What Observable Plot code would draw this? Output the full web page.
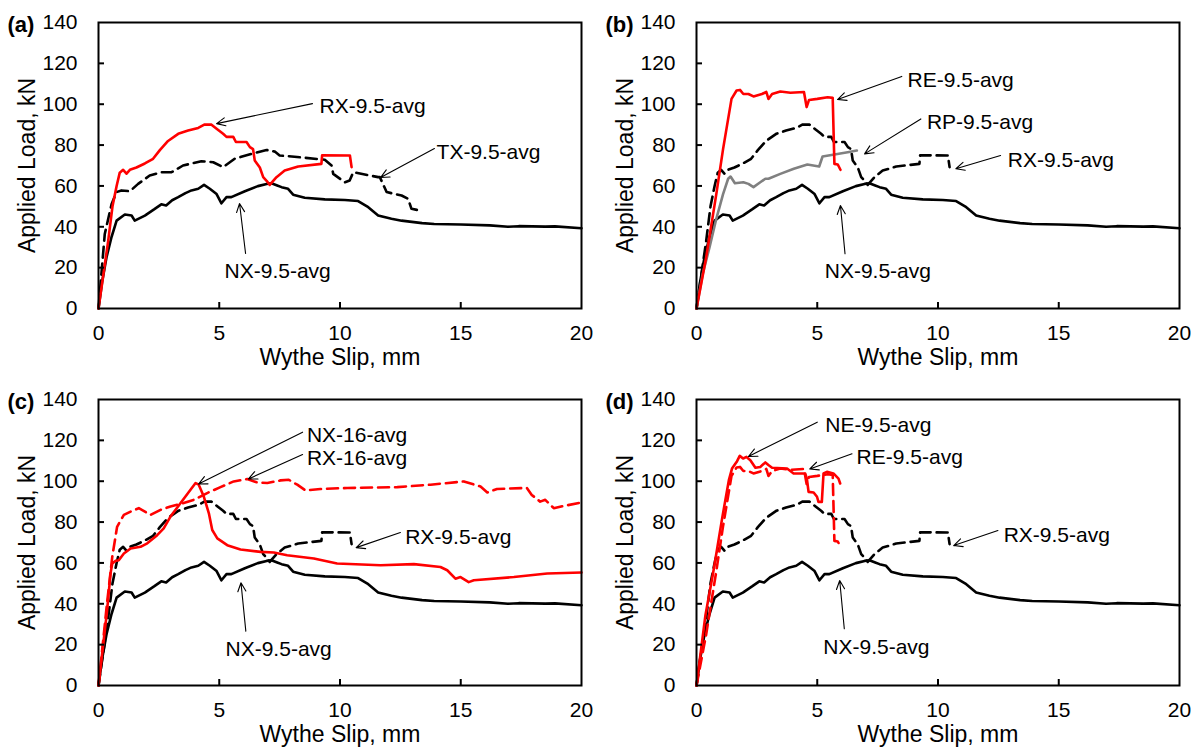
<!DOCTYPE html>
<html><head><meta charset="utf-8">
<script src="https://cdn.jsdelivr.net/npm/d3@7"></script>
<script src="https://cdn.jsdelivr.net/npm/@observablehq/plot@0.6"></script>
<style>
body{margin:0;background:#fff;}
#grid{display:grid;grid-template-columns:598px 598px;grid-template-rows:377px 377px;width:1196px;height:754px;}
#grid svg{display:block;}
</style></head><body><div id="grid"></div><script>
// ---- axis ticks / titles ----
const xTicks = [0, 5, 10, 15, 20];
const yTicks = [0, 20, 40, 60, 80, 100, 120, 140];
const xTitle = "Wythe Slip, mm";
const yTitle = "Applied Load, kN";
const panelLetters = ["(a)", "(b)", "(c)", "(d)"];

// ---- series: [slip mm, load kN] ----
const NX95 = [[0,0],[0.15,13],[0.33,25],[0.54,35],[0.75,43],[1.09,46],[1.37,45.5],[1.5,43],[1.92,45.5],[2.3,48.5],[2.6,51],[2.8,50.4],[3.05,53],[3.3,54.5],[3.6,56.5],[3.85,57.8],[4.13,58.6],[4.37,60.5],[4.61,58.6],[4.89,56],[5.09,51.5],[5.3,54.5],[5.5,54.5],[6.06,57.4],[6.6,59.9],[6.96,61],[7.16,61.3],[7.4,60.2],[7.58,59.4],[7.85,58.6],[8.06,55.7],[8.54,54.2],[9.37,53.4],[10.2,53.1],[10.75,52.6],[11.17,49.6],[11.58,45.5],[12.13,43.9],[12.55,43],[13.4,41.8],[13.9,41.4],[15,41.1],[16.2,40.7],[16.96,40],[17.4,40.3],[18.5,40.1],[18.9,40.2],[20,39.3]];
const RX95 = [[0,0],[0.4,33],[0.58,50],[0.75,60],[0.88,66.5],[1.02,67.9],[1.16,66],[1.3,67.9],[1.57,69],[1.92,71],[2.26,73.3],[2.54,77.5],[2.88,82],[3.3,85.5],[3.71,87.1],[4.13,88.4],[4.4,90.1],[4.68,90],[4.89,88],[5.16,85.5],[5.3,84],[5.58,84],[5.69,81.5],[6.13,81.5],[6.27,79],[6.4,78],[6.47,72.4],[6.68,69],[6.82,64.3],[6.96,62.5],[7.09,60.5],[7.37,64.3],[7.71,67.5],[8.27,69.5],[9.23,70.8],[9.26,75],[10.41,74.9],[10.48,69.2]];
const TX95 = [[0,0],[0.26,36.5],[0.54,51],[0.75,57],[0.95,57.8],[1.3,57.4],[1.64,61],[2.12,65.1],[2.6,66.7],[3.02,66.7],[3.5,70],[4.26,72.1],[4.75,71.6],[5.16,69.2],[5.64,73.3],[6.34,75.7],[6.96,77.6],[7.3,76.8],[7.5,74.9],[8,74.4],[9.37,72.8],[9.65,70],[9.72,65.9],[10.2,61.8],[10.4,62.7],[10.55,66.7],[11.58,64.3],[11.65,64.3],[11.93,57],[12.55,55.3],[12.82,53.7],[12.96,48.8],[13.3,48]];
const RE95 = [[0,0],[0.4,25],[0.82,56],[1.1,78],[1.45,102.6],[1.66,106.7],[1.8,107],[1.94,105],[2.15,105],[2.36,103.8],[2.71,105],[2.89,106],[2.98,102.6],[3.13,105],[3.47,106.2],[3.89,105.6],[4.45,106],[4.56,98.6],[4.66,102.1],[5.0,102.6],[5.43,103.4],[5.64,103.1],[5.71,70.8],[5.85,70.5],[5.96,67.9]];
const RP95 = [[0,0],[0.26,17],[0.54,30],[0.82,43.9],[1.1,56],[1.31,63.5],[1.41,64.6],[1.59,61.3],[1.94,61.8],[2.15,61],[2.36,59.4],[2.64,61.8],[2.85,63.5],[2.98,63.5],[3.47,65.9],[4.03,68.4],[4.59,70.5],[5.08,69.5],[5.22,74.4],[5.71,75.4],[6.26,76.5],[6.64,77.3]];
const NX16 = [[0,0],[0.35,36],[0.5,55],[0.57,59.7],[0.7,61],[0.84,61.3],[1.05,64.6],[1.33,67.1],[1.74,67.9],[2.02,69.6],[2.43,73.6],[2.7,76.9],[2.98,82.7],[3.4,89.3],[3.81,95.8],[4.02,99.1],[4.15,98.3],[4.36,92.5],[4.57,84.3],[4.71,76.1],[4.92,72],[5.33,68.7],[5.88,66.6],[6.71,65.4],[7.26,65.1],[7.81,63.8],[8.92,62.2],[9.88,59.7],[11.68,58.9],[13.06,59.4],[14.16,58],[14.44,56.4],[14.78,52.3],[14.99,53.1],[15.33,50.6],[15.54,51.5],[17.2,53.1],[18.58,54.8],[20,55.3]];
const RX16 = [[0,0],[0.35,40],[0.57,63],[0.77,77.7],[1.05,83.5],[1.33,85.1],[1.67,86.8],[2.15,83.5],[2.57,86],[2.98,87.6],[3.4,88.9],[3.95,90.9],[4.5,94.2],[5.05,97.1],[5.6,99.9],[6.16,101.1],[6.57,99.4],[6.99,99.1],[7.54,100.4],[7.88,100.7],[8.23,98.3],[8.57,95.5],[9.19,96.2],[10.3,96.7],[12.37,97.1],[13.75,98.3],[15.13,99.9],[15.82,97.4],[16.1,94.5],[16.5,96.2],[17.74,96.7],[17.94,93.3],[18.29,90],[18.5,90.9],[18.85,86.8],[19.27,87.9],[20,89.6]];
const NE95 = [[0,0],[0.37,34.4],[0.72,57.3],[1.06,81.7],[1.34,100.5],[1.47,106.2],[1.68,109.8],[1.79,112.4],[1.93,111.1],[2.07,111.9],[2.23,110.3],[2.44,106.6],[2.64,107],[2.85,109.2],[2.99,107.8],[3.13,106.6],[3.75,106.2],[4.02,103.8],[4.5,103.8],[4.57,101.3],[4.64,94.8],[4.85,94.5],[4.99,92.4],[5.05,89.9],[5.19,89.9],[5.26,103.8],[5.4,104.6],[5.67,103.8],[5.88,101.3],[5.95,98.9]];

// ---- annotations: label, text anchor (tx,ty), arrow tail (x1,y1) -> head (x2,y2) ----
const notesA = [
  {label: "RX-9.5-avg", tx: 9.15, ty: 98.9, x1: 8.86, y1: 100.3, x2: 4.89, y2: 90.5},
  {label: "TX-9.5-avg", tx: 14.0, ty: 76.4, x1: 13.91, y1: 78.3, x2: 11.68, y2: 64.1},
  {label: "NX-9.5-avg", tx: 5.22, ty: 18.1, x1: 6.09, y1: 26.9, x2: 5.84, y2: 51.4}
];
const notesB = [
  {label: "RE-9.5-avg", tx: 8.74, ty: 111.6, x1: 8.5, y1: 113.6, x2: 5.84, y2: 102.3},
  {label: "RP-9.5-avg", tx: 9.54, ty: 91.2, x1: 9.29, y1: 92.8, x2: 6.96, y2: 75.7},
  {label: "RX-9.5-avg", tx: 12.89, ty: 72.8, x1: 12.59, y1: 74.9, x2: 10.74, y2: 68.4},
  {label: "NX-9.5-avg", tx: 5.31, ty: 18.3, x1: 6.15, y1: 26.8, x2: 5.96, y2: 50.4}
];
const notesC = [
  {label: "NX-16-avg", tx: 8.63, ty: 122.4, x1: 8.45, y1: 124, x2: 4.14, y2: 98.6},
  {label: "RX-16-avg", tx: 8.63, ty: 111.2, x1: 8.45, y1: 113.1, x2: 6.21, y2: 101.1},
  {label: "RX-9.5-avg", tx: 12.7, ty: 72.4, x1: 12.5, y1: 74.9, x2: 10.67, y2: 67.5},
  {label: "NX-9.5-avg", tx: 5.26, ty: 17.6, x1: 6.1, y1: 26.6, x2: 5.9, y2: 50.3}
];
const notesD = [
  {label: "NE-9.5-avg", tx: 5.33, ty: 127.6, x1: 5.0, y1: 128.9, x2: 2.15, y2: 112.1},
  {label: "RE-9.5-avg", tx: 6.63, ty: 111.7, x1: 6.44, y1: 113.4, x2: 4.69, y2: 106},
  {label: "RX-9.5-avg", tx: 12.72, ty: 73.4, x1: 12.48, y1: 75.9, x2: 10.65, y2: 68.5},
  {label: "NX-9.5-avg", tx: 5.25, ty: 18.7, x1: 6.12, y1: 27.8, x2: 5.93, y2: 51.4}
];

const RED = "#ff0000", BLACK = "#000000", GRAY = "#808080";
const DASH = "11,6";

const panels = [
  {letter: panelLetters[0], notes: notesA, lines: [
    {data: NX95, stroke: BLACK}, {data: TX95, stroke: BLACK, dash: DASH}, {data: RX95, stroke: RED}]},
  {letter: panelLetters[1], notes: notesB, lines: [
    {data: NX95, stroke: BLACK}, {data: RX95, stroke: BLACK, dash: DASH}, {data: RP95, stroke: GRAY}, {data: RE95, stroke: RED}]},
  {letter: panelLetters[2], notes: notesC, lines: [
    {data: NX95, stroke: BLACK}, {data: RX95, stroke: BLACK, dash: DASH}, {data: RX16, stroke: RED, dash: DASH}, {data: NX16, stroke: RED}]},
  {letter: panelLetters[3], notes: notesD, lines: [
    {data: NX95, stroke: BLACK}, {data: RX95, stroke: BLACK, dash: DASH}, {data: RE95, stroke: RED, dash: DASH}, {data: NE95, stroke: RED}]}
];

const FONT = "'Liberation Sans', Arial, sans-serif";
const W = 598, H = 377, ML = 98, MR = 17, MT = 22, MB = 69;

function makePanel(p) {
  return Plot.plot({
    width: W, height: H, marginLeft: ML, marginRight: MR, marginTop: MT, marginBottom: MB,
    style: {fontFamily: FONT, fontSize: "21px", color: "#000", background: "#fff", overflow: "visible"},
    x: {domain: [0, 20]},
    y: {domain: [0, 140]},
    marks: [
      Plot.axisX({ticks: xTicks, tickSize: 0, tickPadding: 17, label: null, fontSize: 21}),
      Plot.axisY({ticks: yTicks, tickSize: 0, tickPadding: 21, label: null, fontSize: 21}),
      ...p.lines.map(l => Plot.line(l.data, {x: d => d[0], y: d => d[1], stroke: l.stroke, strokeWidth: 2.6, strokeDasharray: l.dash, strokeLinejoin: "round"})),
      Plot.tickX(xTicks.slice(1, -1), {x: d => d, insetTop: H - MT - MB - 6, stroke: BLACK, strokeWidth: 2}),
      Plot.tickY(yTicks.slice(1, -1), {y: d => d, insetRight: W - ML - MR - 6, stroke: BLACK, strokeWidth: 2}),
      Plot.frame({stroke: BLACK, strokeWidth: 2}),
      Plot.arrow(p.notes, {x1: "x1", y1: "y1", x2: "x2", y2: "y2", stroke: BLACK, strokeWidth: 1.1, headLength: 13, headAngle: 50}),
      Plot.text(p.notes, {x: "tx", y: "ty", text: "label", textAnchor: "start", fontSize: 21, fill: BLACK}),
      Plot.text([xTitle], {text: d => d, frameAnchor: "bottom", dy: 40, textAnchor: "middle", lineAnchor: "top", fontSize: 23, fill: BLACK}),
      Plot.text([yTitle], {text: d => d, frameAnchor: "left", dx: -80, rotate: -90, textAnchor: "middle", lineAnchor: "top", fontSize: 23, fill: BLACK}),
      Plot.text([p.letter], {text: d => d, frameAnchor: "top-left", dx: -91, dy: 2, textAnchor: "start", lineAnchor: "middle", fontWeight: "bold", fontSize: 22, fill: BLACK})
    ]
  });
}

const grid = document.getElementById("grid");
for (const p of panels) grid.appendChild(makePanel(p));
</script></body></html>
